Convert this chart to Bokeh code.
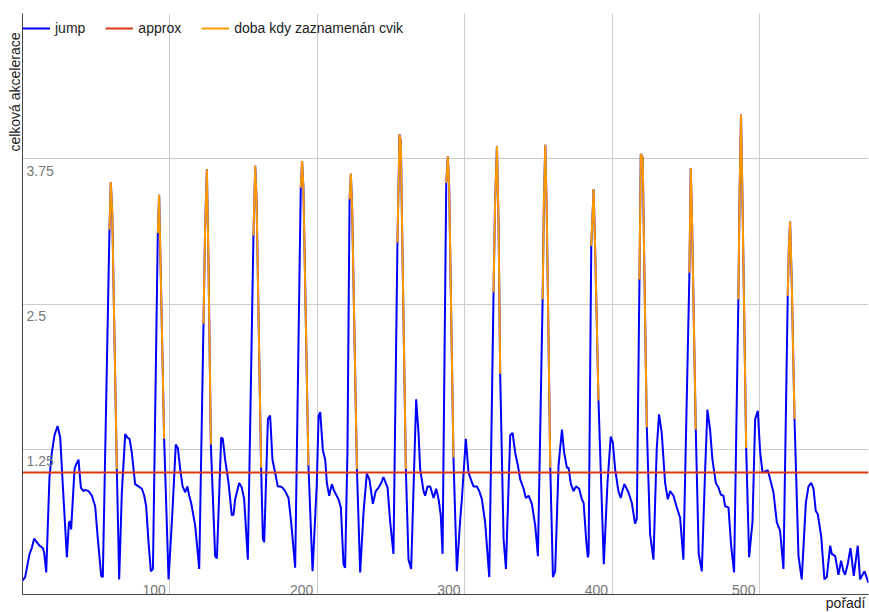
import math
from bokeh.plotting import figure
from bokeh.models import (Range1d, Grid, FixedTicker, LinearAxis, Title, Legend,
                          LegendItem, ColumnDataSource)
from bokeh.embed import file_html
from bokeh.resources import INLINE
from bokeh.core.properties import value

# ---------------- data ----------------
jump_x = [0.0, 1.8, 4.8, 6.3, 7.9, 9.7, 11.5, 13.8, 14.7, 16.1, 18.3, 19.9, 21.7, 23.8, 25.6,
          27.4, 30.1, 31.5, 32.4, 33.0, 35.3, 36.4, 38.0, 39.6, 41.4, 42.5, 44.8, 47.1, 49.3,
          51.1, 53.4, 54.5, 59.0, 59.9, 60.9, 64.0, 65.6, 67.4, 69.7, 71.2, 72.6, 74.2, 76.4,
          78.7, 81.0, 82.6, 83.9, 85.5, 87.1, 88.5, 91.8, 92.7, 96.1, 99.1, 101.8, 104.0,
          105.4, 107.0, 108.6, 110.4, 111.9, 113.1, 114.4, 117.2, 119.9, 122.8, 123.9, 125.1,
          126.2, 127.8, 130.7, 131.9, 134.8, 135.9, 137.5, 139.8, 142.0, 143.2, 144.3, 147.0,
          148.8, 150.4, 152.9, 156.7, 157.9, 158.8, 161.9, 163.1, 164.0, 166.5, 168.0, 169.6,
          171.4, 173.2, 174.8, 176.4, 178.2, 180.5, 182.3, 185.0, 188.8, 189.7, 190.6, 194.0,
          196.8, 199.7, 200.9, 202.0, 203.8, 205.4, 206.5, 208.1, 209.9, 211.5, 214.4, 216.0,
          217.8, 218.9, 220.5, 221.9, 222.8, 223.7, 226.9, 229.1, 231.4, 233.6, 235.4, 237.7,
          239.7, 241.6, 243.4, 244.9, 247.7, 249.5, 251.7, 254.4, 255.8, 256.7, 257.5, 260.1,
          261.9, 263.7, 267.1, 268.7, 269.8, 272.1, 273.2, 274.8, 276.6, 278.9, 280.7, 282.3,
          283.8, 285.0, 287.5, 288.6, 289.5, 292.4, 294.7, 297.0, 298.1, 300.8, 302.6, 304.5,
          306.0, 308.3, 309.9, 311.7, 313.9, 316.7, 319.6, 320.6, 321.9, 323.0, 324.1, 326.4,
          328.0, 330.9, 332.5, 334.3, 336.1, 337.7, 340.0, 341.5, 343.4, 345.6, 347.9, 349.7,
          352.9, 353.8, 354.7, 355.7, 358.1, 359.9, 361.4, 363.7, 366.0, 367.5, 369.4, 370.5,
          372.1, 373.9, 375.5, 377.7, 379.5, 380.7, 382.5, 383.6, 384.1, 385.9, 387.5, 388.5,
          390.8, 394.4, 396.9, 399.1, 400.5, 402.1, 404.3, 405.9, 407.0, 408.4, 411.1, 413.4,
          415.6, 416.8, 418.6, 419.5, 420.8, 421.8, 423.6, 425.8, 428.1, 430.3, 431.9, 433.7,
          436.0, 437.8, 439.4, 441.7, 443.9, 446.2, 448.4, 452.5, 453.4, 454.3, 456.8, 458.8,
          460.9, 463.1, 464.7, 466.5, 468.1, 470.4, 472.2, 473.8, 475.6, 476.7, 479.0, 480.8,
          482.8, 485.7, 486.6, 487.5, 488.5, 491.0, 493.0, 495.3, 497.1, 498.9, 500.5, 502.1,
          503.9, 505.7, 507.3, 509.5, 511.8, 514.0, 516.3, 519.2, 520.0, 520.8, 521.9, 523.8,
          526.5, 528.7, 531.5, 533.3, 535.1, 536.7, 538.2, 539.6, 541.9, 544.1, 545.7, 548.0,
          549.1, 551.4, 553.6, 555.4, 557.0, 558.1, 559.9, 561.8, 564.0, 566.7, 568.3, 571.3,
          574.0]
jump_y = [0.12, 0.15, 0.35, 0.40, 0.48, 0.45, 0.42, 0.40, 0.36, 0.19, 1.01, 1.22, 1.37, 1.45, 1.35,
          0.93, 0.32, 0.62, 0.63, 0.56, 1.08, 1.12, 1.16, 0.92, 0.89, 0.90, 0.89, 0.85, 0.76,
          0.48, 0.16, 0.15, 3.14, 3.55, 3.28, 1.08, 0.13, 0.88, 1.38, 1.35, 1.34, 1.22, 0.95,
          0.93, 0.91, 0.85, 0.76, 0.45, 0.20, 0.22, 3.11, 3.44, 1.34, 0.13, 0.73, 1.29,
          1.26, 1.08, 0.93, 0.88, 0.93, 0.85, 0.79, 0.59, 0.22, 2.33, 3.15, 3.66,
          2.85, 1.29, 0.33, 0.31, 1.35, 1.34, 1.16, 0.96, 0.68, 0.69, 0.82, 0.96,
          0.92, 0.82, 0.30, 3.09, 3.69, 3.40, 1.09, 0.48, 0.45, 1.51, 1.54, 1.16,
          1.05, 0.93, 0.93, 0.92, 0.89, 0.83, 0.62, 0.23, 3.50, 3.73, 3.50, 1.11,
          0.20, 0.96, 1.54, 1.57, 1.24, 1.16, 0.96, 0.85, 0.95, 0.89, 0.82, 0.75,
          0.26, 0.23, 1.25, 3.40, 3.62, 3.30, 1.08, 0.19, 0.71, 1.04, 0.99, 0.78,
          0.89, 0.92, 0.96, 1.01, 0.92, 0.62, 0.35, 3.03, 3.96, 3.90, 3.20, 1.08,
          0.30, 0.22, 1.68, 1.39, 1.08, 0.89, 0.85, 0.93, 0.93, 0.83, 0.91, 0.82,
          0.68, 0.35, 3.54, 3.77, 3.50, 1.18, 0.20, 0.65, 0.82, 1.34, 1.05, 0.98,
          0.93, 0.93, 0.89, 0.82, 0.62, 0.15, 2.60, 3.35, 3.86, 3.20, 1.90, 0.48,
          0.22, 1.37, 1.39, 1.22, 1.11, 0.99, 0.91, 0.83, 0.85, 0.78, 0.59, 0.33,
          2.54, 3.40, 3.87, 3.30, 1.09, 0.15, 0.20, 1.11, 1.42, 1.22, 1.09, 1.09,
          0.95, 0.89, 0.93, 0.91, 0.82, 0.79, 0.46, 0.32, 0.35, 3.00, 3.49, 3.00,
          1.67, 0.26, 0.96, 1.36, 1.31, 1.08, 0.89, 0.83, 0.89, 0.95, 0.88, 0.79,
          0.61, 0.65, 2.71, 3.79, 3.76, 2.90, 1.44, 0.52, 0.30, 1.25, 1.55, 1.39,
          0.96, 0.82, 0.89, 0.85, 0.75, 0.66, 0.30, 2.77, 3.67, 3.20, 1.42, 0.35,
          0.20, 1.05, 1.59, 1.42, 1.16, 0.96, 0.92, 0.86, 0.85, 0.76, 0.75, 0.42,
          0.19, 2.54, 3.50, 4.13, 3.40, 1.26, 0.32, 0.63, 1.51, 1.58, 1.22, 1.05,
          1.06, 1.07, 0.99, 0.88, 0.62, 0.55, 0.22, 2.57, 3.00, 3.21, 2.70, 1.51,
          0.33, 0.13, 0.79, 0.93, 0.96, 0.91, 0.72, 0.69, 0.50, 0.13, 0.15, 0.42,
          0.35, 0.33, 0.17, 0.29, 0.20, 0.17, 0.26, 0.40, 0.16, 0.42, 0.13, 0.20,
          0.10]

# windows in which the exercise was detected ("doba kdy zaznamenán cvik")
cvik_start = [59.0, 91.8, 122.8, 156.7, 188.8, 221.9, 254.4, 287.5, 319.6, 352.9,
              385.9, 418.6, 452.5, 485.7, 519.2]
cvik_end = [64.0, 96.1, 127.8, 161.9, 194.0, 226.9, 260.1, 292.4, 324.1, 358.1,
            390.8, 423.6, 456.8, 491.0, 523.8]

approx_level = 1.05

x_min, x_max = 0, 574
y_min, y_max = 0, 5
x_ticks = [100, 200, 300, 400, 500]
x_tick_labels = ["100", "200", "300", "400", "500"]
y_grid = [1.25, 2.5, 3.75, 5]
y_ticks = [1.25, 2.5, 3.75]
y_tick_labels = ["1.25", "2.5", "3.75"]

# orange series = jump values inside the detection windows
cvik_x, cvik_y = [], []
for s, e in zip(cvik_start, cvik_end):
    for xv, yv in zip(jump_x, jump_y):
        if s <= xv <= e:
            cvik_x.append(xv)
            cvik_y.append(yv)
    cvik_x.append(float("nan"))
    cvik_y.append(float("nan"))

FONT = "Liberation Sans"

p = figure(width=869, height=612, output_backend="svg", toolbar_location=None,
           x_range=Range1d(x_min, x_max), y_range=Range1d(y_min, y_max),
           x_axis_location=None, y_axis_location=None,
           min_border_left=22, min_border_right=1, min_border_top=13, min_border_bottom=18)
p.outline_line_color = None
p.grid.visible = False
p.background_fill_color = "white"
p.border_fill_color = "white"


def bare_axis():
    return LinearAxis(ticker=FixedTicker(ticks=[]), axis_line_color="#444444",
                      major_tick_line_color=None, minor_tick_line_color=None,
                      major_label_text_font_size="0px", major_label_standoff=0,
                      major_tick_in=0, major_tick_out=0, axis_label=None)


p.add_layout(bare_axis(), "left")
p.add_layout(bare_axis(), "below")

p.add_layout(Grid(dimension=0, ticker=FixedTicker(ticks=x_ticks), grid_line_color="#cccccc"))
p.add_layout(Grid(dimension=1, ticker=FixedTicker(ticks=y_grid), grid_line_color="#cccccc"))

r_jump = p.line(jump_x, jump_y, line_color="#0000ff", line_width=2)
r_approx = p.line([x_min, x_max], [approx_level, approx_level], line_color="#dc3912", line_width=2)
r_cvik = p.line(cvik_x, cvik_y, line_color="#ff9900", line_width=2)

xs = ColumnDataSource(dict(x=x_ticks, y=[y_min] * len(x_ticks), t=x_tick_labels))
p.text(x="x", y="y", text="t", source=xs, text_align="right", text_baseline="alphabetic",
       x_offset=-4, y_offset=-5, text_font=value(FONT), text_font_size="14px",
       text_color="#777777")
ys = ColumnDataSource(dict(x=[x_min] * len(y_ticks), y=y_ticks, t=y_tick_labels))
p.text(x="x", y="y", text="t", source=ys, text_align="left", text_baseline="top",
       x_offset=4, y_offset=7, text_font=value(FONT), text_font_size="14px",
       text_color="#777777")

p.add_layout(Title(text="celková akcelerace", align="right", text_font=FONT,
                   text_font_size="14px", text_font_style="normal", text_color="#222222",
                   standoff=0, offset=19), "left")
p.add_layout(Title(text="pořadí", align="right", vertical_align="top", text_font=FONT,
                   text_font_size="14px", text_font_style="normal", text_color="#222222",
                   standoff=0, offset=3), "below")

legend = Legend(items=[LegendItem(label="jump", renderers=[r_jump]),
                       LegendItem(label="approx", renderers=[r_approx]),
                       LegendItem(label="doba kdy zaznamenán cvik", renderers=[r_cvik])],
                orientation="horizontal", location=(0, 556),
                glyph_width=28, glyph_height=20, label_height=20, label_standoff=5,
                spacing=20, padding=0, margin=0, border_line_color=None,
                background_fill_alpha=0, label_text_font=FONT,
                label_text_font_size="14px", label_text_color="#222222")
p.add_layout(legend)

open("out.html", "w").write(file_html(p, INLINE))
